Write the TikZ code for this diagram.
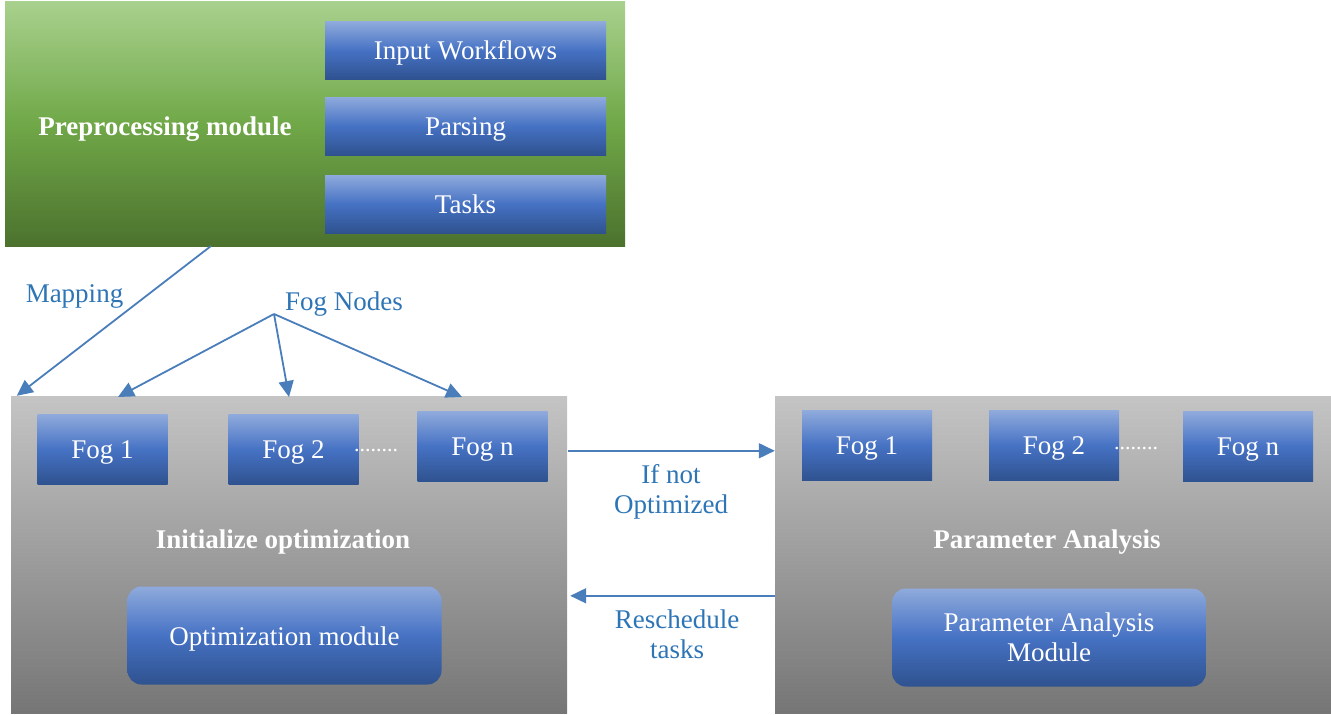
\documentclass[tikz,border=0pt]{standalone}
\usepackage{fontspec}
\setmainfont{Liberation Serif}
\usepackage{xcolor}
\usepackage{tikz}
\usetikzlibrary{arrows.meta}
\usetikzlibrary{positioning}

\definecolor{greentop}{RGB}{169,209,142}
\definecolor{greenmid}{RGB}{112,168,72}
\definecolor{greenbot}{RGB}{76,114,46}
\definecolor{graytop}{RGB}{196,196,196}
\definecolor{graybot}{RGB}{118,118,118}
\definecolor{bluetop}{RGB}{143,170,220}
\definecolor{bluemid}{RGB}{70,114,196}
\definecolor{bluebot}{RGB}{47,82,143}
\definecolor{labelblue}{RGB}{46,117,182}
\definecolor{arrowblue}{RGB}{74,126,187}

\begin{document}
\begin{tikzpicture}[
  x=1pt, y=-1pt,
  font=\fontsize{27}{30}\selectfont
]
\tikzset{
    panel/.style = {rectangle, inner sep=0pt, top color=graytop, bottom color=graybot},
    blockbox/.style = {rectangle, inner sep=0pt, align=center, text=white,
                       top color=bluetop, bottom color=bluebot, middle color=bluemid},
    oneline/.style = {text height=18pt, text depth=0pt},
    fogbox/.style = {blockbox, oneline, minimum width=130pt, minimum height=70pt},
    modbox/.style = {blockbox, rounded corners=14pt, minimum width=314pt, minimum height=98pt},
    subbox/.style = {blockbox, oneline, minimum width=281pt, minimum height=58pt},
    title/.style = {text=white, anchor=base, font=\fontsize{27}{30}\selectfont\bfseries},
    note/.style = {text=labelblue, align=center},
    dotrow/.style = {text=white, anchor=base, font=\fontsize{22}{26}\selectfont},
    arr/.style = {draw=arrowblue, line width=1.8pt, -{Triangle[length=16pt,width=15pt]}}
}
\useasboundingbox (0,0) rectangle (1331,715);

\node[rectangle, inner sep=0pt, minimum width=620pt, minimum height=245pt,
      top color=greentop, bottom color=greenbot, middle color=greenmid] (pre) at (315,123.5) {};
\node[subbox] (input) at (465.5,50.5) {Input Workflows};
\node[subbox] (parse) at (465.5,126) {Parsing};
\node[subbox] (tasks) at (465.5,204) {Tasks};
\node[title] (pretxt) at (165,135) {Preprocessing module};

\node[panel, minimum width=556pt, minimum height=317pt] (init) at (289,554.5) {};
\node[fogbox] (lfog1) at (102.5,449.5) {Fog 1};
\node[fogbox] (lfog2) at (293.5,449.5) {Fog 2};
\node[fogbox] (lfogn) at (482.5,446.5) {Fog n};
\node[dotrow] (ldots) at (376,451) {........};
\node[title] (inittxt) at (283,548) {Initialize optimization};
\node[modbox, text height=20pt, text depth=0pt] (optmod) at (284.5,635.5) {Optimization module};

\node[panel, minimum width=556pt, minimum height=317pt] (param) at (1053,554.5) {};
\node[fogbox] (rfog1) at (867,445.5) {Fog 1};
\node[fogbox] (rfog2) at (1054,445.5) {Fog 2};
\node[fogbox] (rfogn) at (1248,446.5) {Fog n};
\node[dotrow] (rdots) at (1136,449) {........};
\node[title] (paramtxt) at (1047,548) {Parameter Analysis};
\node[modbox] (pamod) at (1049,637.5) {Parameter Analysis\\Module};

\node[note, anchor=base] (maplbl) at (74.5,302) {Mapping};
\node[note, anchor=base] (foglbl) at (344,310) {Fog Nodes};
\node[note] (notopt) at (671,492) {If not\\Optimized};
\node[note] (resched) at (677,634) {Reschedule\\tasks};

\coordinate (mapsrc) at (211,246);
\coordinate (fogsrc) at (274,314);
\coordinate (tip1) at (118,397);
\coordinate (tip2) at (289,397);
\coordinate (tipn) at (462,397);

\draw[arr] (mapsrc) -- ([xshift=6pt]init.north west);
\draw[arr] (fogsrc) -- (tip1);
\draw[arr] (fogsrc) -- (tip2);
\draw[arr] (fogsrc) -- (tipn);
\draw[arr] ([yshift=-55pt,xshift=1pt]init.north east) -- ([yshift=-55pt]param.north west);
\draw[arr] ([yshift=-200pt]param.north west) -- ([yshift=-200pt,xshift=3pt]init.north east);
\end{tikzpicture}
\end{document}
